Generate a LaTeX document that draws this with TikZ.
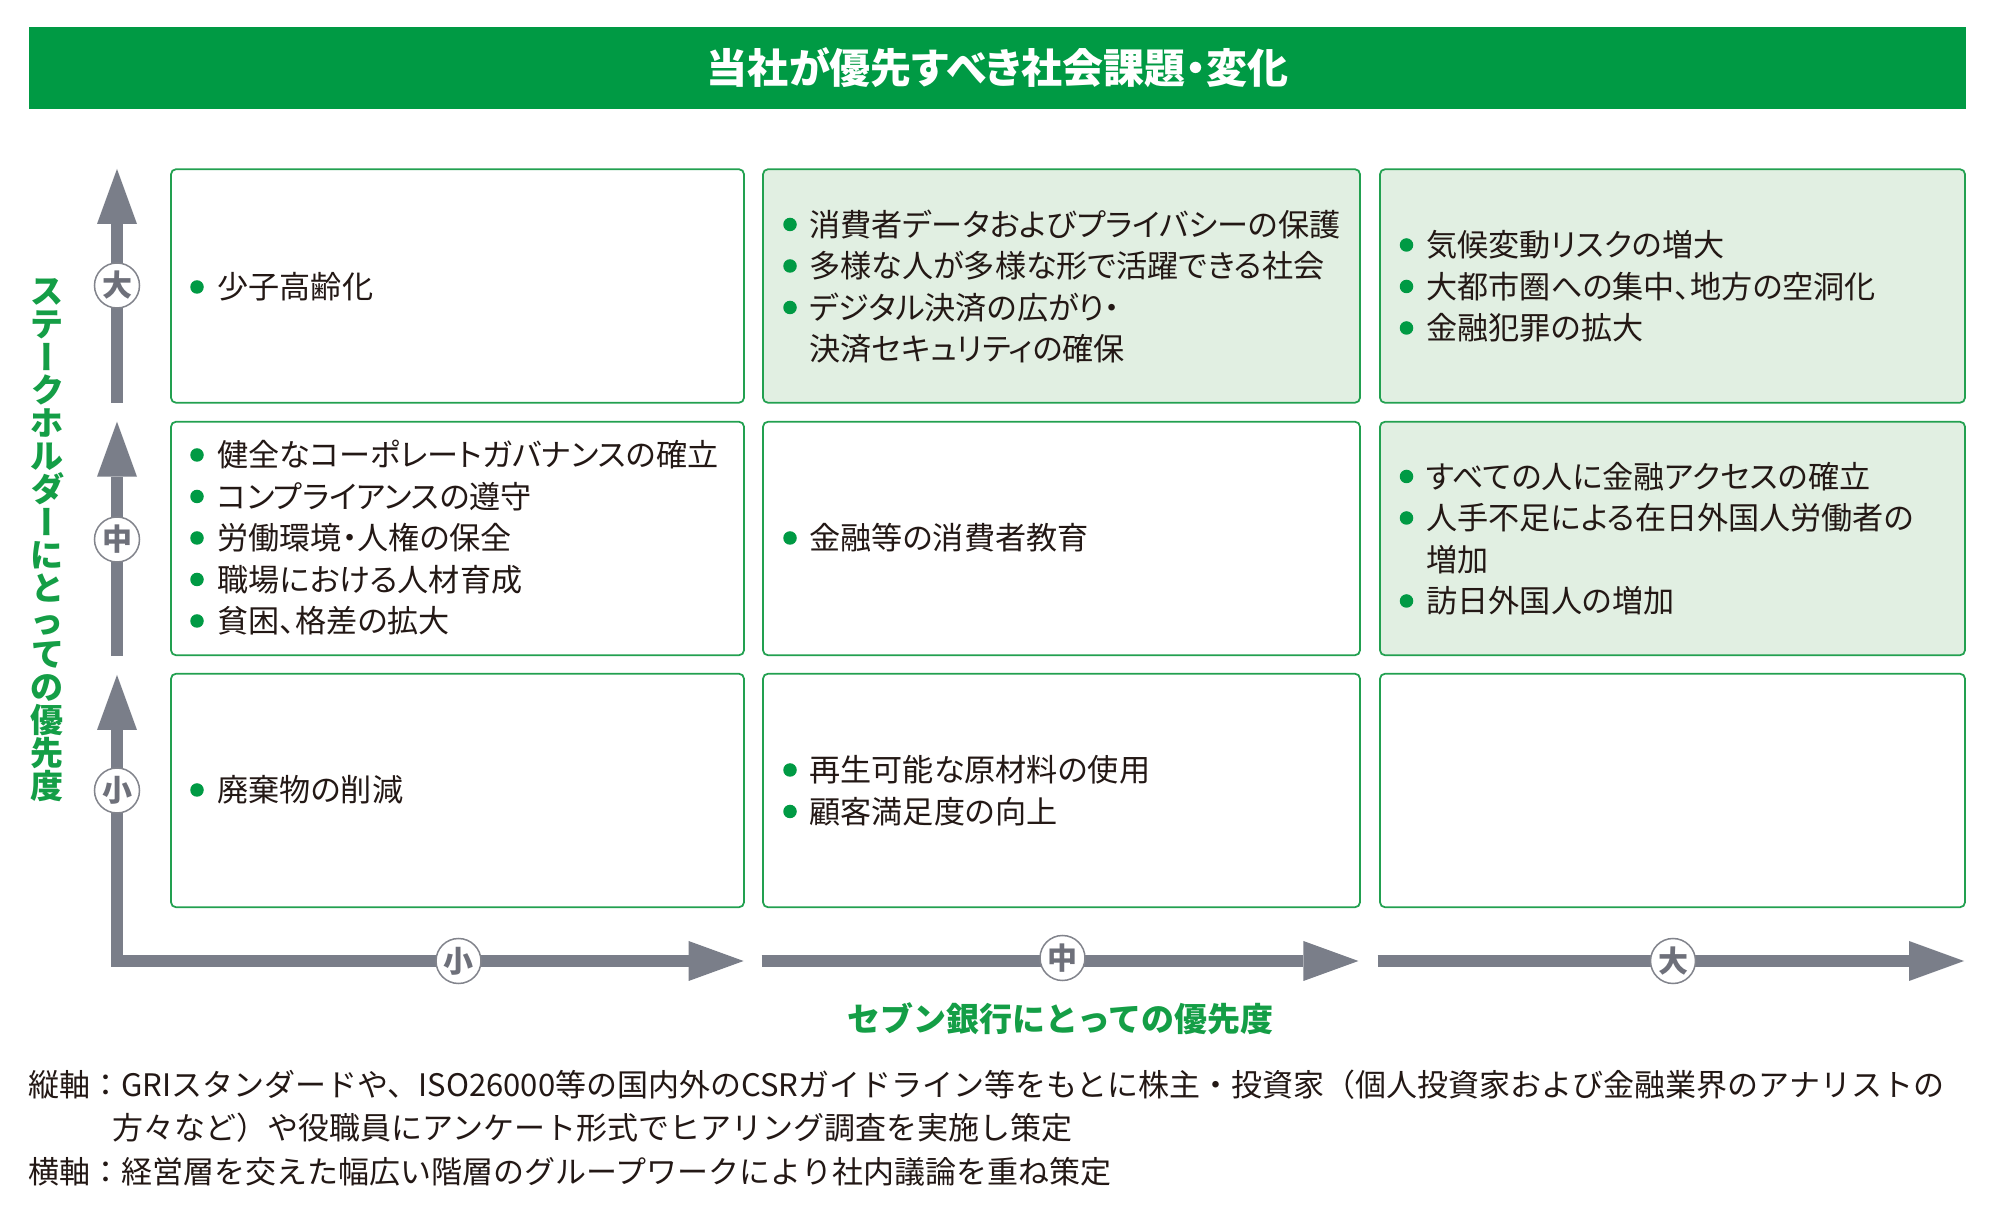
\documentclass[tikz,border=0pt]{standalone}
\usepackage{fontspec}
\setmainfont{Noto Sans CJK JP}[RawFeature=+palt]
\newfontfamily\jpfull{Noto Sans CJK JP}
\usepackage{graphicx}
\usetikzlibrary{arrows.meta}
\definecolor{hdrgreen}{RGB}{0,154,68}
\definecolor{boxgreen}{RGB}{34,160,80}
\definecolor{fillgreen}{RGB}{225,239,226}
\definecolor{bulgreen}{RGB}{0,154,68}
\definecolor{labgreen}{RGB}{20,158,70}
\definecolor{agray}{RGB}{122,126,137}
\definecolor{cgray}{RGB}{130,132,140}
\definecolor{ctext}{RGB}{110,112,122}
\definecolor{txtblack}{RGB}{35,24,21}
\newcommand\vstrut{\rule[-0.12em]{0pt}{1em}}
\newcommand\vbar{\rotatebox[origin=c]{90}{\vstrut ー}}
\begin{document}
\begin{tikzpicture}[x=0.4pt,y=-0.4pt,
  hdr/.style={fill=hdrgreen, minimum width=774.8pt, minimum height=32.8pt, inner sep=0pt,
    text=white, font=\bfseries\fontsize{16.4}{18}\selectfont, text height=14.4pt, text depth=2pt},
  cell/.style={draw=boxgreen, line width=0.7pt, rounded corners=2pt, minimum height=93.4pt, inner sep=0pt},
  plain/.style={cell, fill=white},
  shaded/.style={cell, fill=fillgreen},
  txt/.style={anchor=west, inner sep=0pt, text=txtblack, font=\fontsize{12.45}{16}\selectfont,
    text height=10.95pt, text depth=1.5pt},
  bul/.style={fill=bulgreen},
  ax/.style={draw=agray, line width=4.8pt, line join=miter},
  tipx/.tip={Triangle[length=22pt,width=16pt,line width=0pt]},
  circ/.style={circle, draw=cgray, line width=0.6pt, fill=white, inner sep=0pt, minimum size=18pt,
    text=ctext, font=\bfseries\fontsize{12}{12}\selectfont, text height=10.56pt, text depth=1.44pt},
  lab/.style={inner sep=0pt, text=labgreen, font=\bfseries\fontsize{13.2}{13.2}\selectfont},
  note/.style={anchor=west, inner sep=0pt, text=txtblack, font=\jpfull\fontsize{12.4}{16}\selectfont,
    text height=10.9pt, text depth=1.5pt}
]
\fill[white] (0,0) rectangle (2000,1223);
\useasboundingbox (0,0) rectangle (2000,1223);

% header
\node[hdr] (title) at (997.5,68) {当社が優先すべき社会課題・変化};

% boxes
\node[plain,  minimum width=229.2pt] (b11) at (457.5,286) {};
\node[shaded, minimum width=238.8pt] (b12) at (1061.5,286) {};
\node[shaded, minimum width=234pt]   (b13) at (1672.5,286) {};
\node[plain,  minimum width=229.2pt] (b21) at (457.5,538.5) {};
\node[plain,  minimum width=238.8pt] (b22) at (1061.5,538.5) {};
\node[shaded, minimum width=234pt]   (b23) at (1672.5,538.5) {};
\node[plain,  minimum width=229.2pt] (b31) at (457.5,790.5) {};
\node[plain,  minimum width=238.8pt] (b32) at (1061.5,790.5) {};
\node[plain,  minimum width=234pt]   (b33) at (1672.5,790.5) {};

% row 1 texts
\node[txt] (t11a) at (217,287) {少子高齢化};
\fill[bul] (197,287) circle (2.7pt);

\node[txt] (t12a) at (809,224.5) {消費者データおよびプライバシーの保護};
\node[txt] (t12b) at (809,266) {多様な人が多様な形で活躍できる社会};
\node[txt] (t12c) at (809,307.5) {デジタル決済の広がり・};
\node[txt] (t12d) at (809,349) {決済セキュリティの確保};
\fill[bul] (790,224.5) circle (2.7pt);
\fill[bul] (790,266) circle (2.7pt);
\fill[bul] (790,307.5) circle (2.7pt);

\node[txt] (t13a) at (1426,245) {気候変動リスクの増大};
\node[txt] (t13b) at (1426,286.5) {大都市圏への集中、地方の空洞化};
\node[txt] (t13c) at (1426,328) {金融犯罪の拡大};
\fill[bul] (1406.5,245) circle (2.7pt);
\fill[bul] (1406.5,286.5) circle (2.7pt);
\fill[bul] (1406.5,328) circle (2.7pt);

% row 2 texts
\node[txt] (t21a) at (217,455) {健全なコーポレートガバナンスの確立};
\node[txt] (t21b) at (217,496.5) {コンプライアンスの遵守};
\node[txt] (t21c) at (217,538) {労働環境・人権の保全};
\node[txt] (t21d) at (217,579.5) {職場における人材育成};
\node[txt] (t21e) at (217,621) {貧困、格差の拡大};
\foreach \yy in {455,496.5,538,579.5,621} \fill[bul] (197,\yy) circle (2.7pt);

\node[txt] (t22a) at (809,538) {金融等の消費者教育};
\fill[bul] (790,538) circle (2.7pt);

\node[txt] (t23a) at (1426,476.5) {すべての人に金融アクセスの確立};
\node[txt] (t23b) at (1426,518) {人手不足による在日外国人労働者の};
\node[txt] (t23c) at (1426,559.5) {増加};
\node[txt] (t23d) at (1426,601) {訪日外国人の増加};
\fill[bul] (1406.5,476.5) circle (2.7pt);
\fill[bul] (1406.5,518) circle (2.7pt);
\fill[bul] (1406.5,601) circle (2.7pt);

% row 3 texts
\node[txt] (t31a) at (217,790) {廃棄物の削減};
\fill[bul] (197,790) circle (2.7pt);
\node[txt] (t32a) at (809,770) {再生可能な原材料の使用};
\node[txt] (t32b) at (809,811.5) {顧客満足度の向上};
\fill[bul] (790,770) circle (2.7pt);
\fill[bul] (790,811.5) circle (2.7pt);

% axes
\coordinate (v1b) at (117,403);
\coordinate (v1t) at (117,169);
\coordinate (v2b) at (117,655.7);
\coordinate (v2t) at (117,421.7);
\coordinate (v3t) at (117,675);
\coordinate (corner) at (117,961);
\coordinate (h1t) at (743.6,961);
\coordinate (h2s) at (761.5,961);
\coordinate (h2t) at (1358.4,961);
\coordinate (h3s) at (1377.6,961);
\coordinate (h3t) at (1964,961);
\draw[ax, -tipx] (v1b) -- (v1t);
\draw[ax, -tipx] (v2b) -- (v2t);
\draw[ax, tipx-tipx] (v3t) -- (corner) -- (h1t);
\draw[ax, -tipx] (h2s) -- (h2t);
\draw[ax, -tipx] (h3s) -- (h3t);

% level circles
\node[circ] (cv1) at (117,285.5) {大};
\node[circ] (cv2) at (117,539.5) {中};
\node[circ] (cv3) at (117,790.5) {小};
\node[circ] (ch1) at (458.5,961) {小};
\node[circ] (ch2) at (1062.5,958) {中};
\node[circ] (ch3) at (1673,961) {大};

% axis labels
\node[lab, align=center] (vlab) at (47,540) {ス\\テ\\\vbar\\ク\\ホ\\ル\\ダ\\\vbar\\に\\と\\っ\\て\\の\\優\\先\\度};
\node[lab, font=\jpfull\bfseries\fontsize{13.2}{13.2}\selectfont, text height=11.6pt, text depth=1.6pt] (hlab) at (1060.5,1019) {セブン銀行にとっての優先度};

% notes
\node[note] (n1) at (28,1085) {縦軸：GRIスタンダードや、ISO26000等の国内外のCSRガイドライン等をもとに株主・投資家（個人投資家および金融業界のアナリストの};
\node[note] (n2) at (112,1128) {方々など）や役職員にアンケート形式でヒアリング調査を実施し策定};
\node[note] (n3) at (28,1172) {横軸：経営層を交えた幅広い階層のグループワークにより社内議論を重ね策定};
\end{tikzpicture}
\end{document}
